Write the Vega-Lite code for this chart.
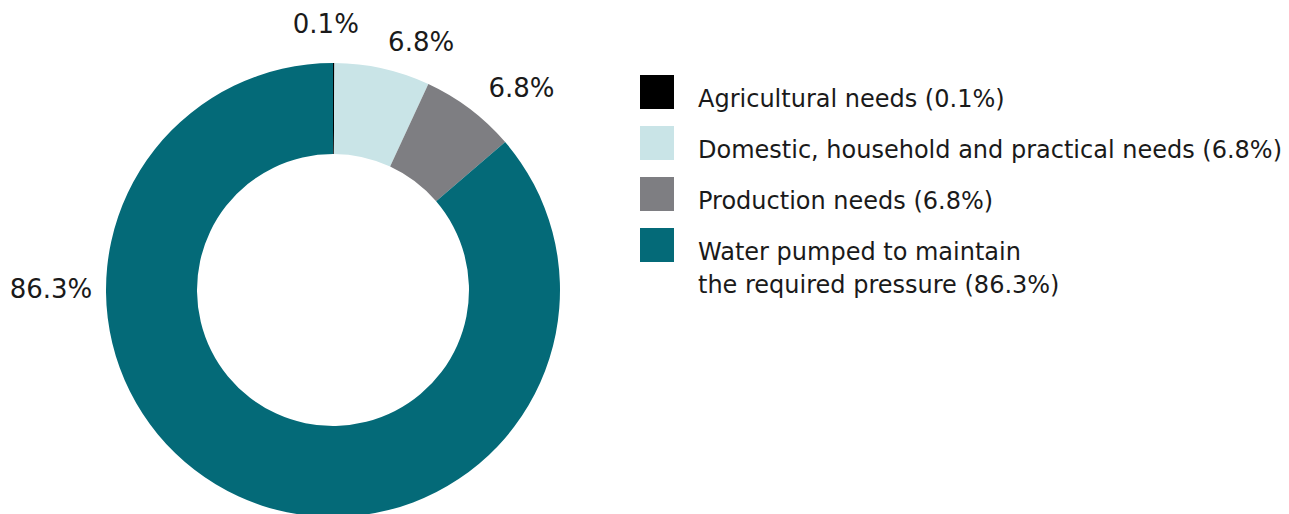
{
  "$schema": "https://vega.github.io/schema/vega-lite/v6.json",
  "width": 666,
  "height": 580,
  "padding": 0,
  "autosize": {"type": "pad"},
  "background": "white",
  "config": {"view": {"stroke": null}, "font": "DejaVu Sans"},
  "data": {
    "values": [
      {"category": "Agricultural needs (0.1%)", "share": 0.1, "label": "0.1%"},
      {"category": "Domestic, household and practical needs (6.8%)", "share": 6.8, "label": "6.8%"},
      {"category": "Production needs (6.8%)", "share": 6.8, "label": "6.8%"},
      {"category": "Water pumped to maintain|the required pressure (86.3%)", "share": 86.3, "label": "86.3%"}
    ]
  },
  "layer": [
    {
      "mark": {"type": "arc", "innerRadius": 136, "outerRadius": 227},
      "encoding": {
        "theta": {"field": "share", "type": "quantitative", "stack": true},
        "order": {"field": "category", "sort": "ascending"},
        "color": {
          "field": "category",
          "type": "nominal",
          "scale": {
            "domain": ["Agricultural needs (0.1%)", "Domestic, household and practical needs (6.8%)", "Production needs (6.8%)", "Water pumped to maintain|the required pressure (86.3%)"],
            "range": ["#000000", "#C9E4E7", "#7E7E82", "#046A78"]
          },
          "legend": {
            "title": null,
            "orient": "none",
            "legendX": 640,
            "legendY": 75,
            "symbolType": "square",
            "symbolSize": 1156,
            "symbolStrokeWidth": 0,
            "labelFontSize": 24,
            "labelFont": "DejaVu Sans",
            "labelColor": "#1a1a1a",
            "labelOffset": 24,
            "rowPadding": 14,
            "labelLimit": 800,
            "labelExpr": "split(datum.label, '|')",
            "encoding": {
              "labels": {"dy": {"value": 8}, "lineHeight": {"value": 33}}
            }
          }
        }
      }
    },
    {
      "transform": [{"filter": "datum.share < 1"}],
      "mark": {"type": "text", "radius": 265, "align": "center", "baseline": "middle", "fontSize": 26, "font": "DejaVu Sans", "color": "#1a1a1a", "dx": -8},
      "encoding": {
        "theta": {"field": "share", "type": "quantitative", "stack": true, "scale": {"domain": [0, 100]}},
        "text": {"field": "label"}
      }
    },
    {
      "transform": [{"filter": "datum.share > 1 && datum.share < 50"}],
      "mark": {"type": "text", "radius": 260, "align": "left", "baseline": "middle", "fontSize": 26, "font": "DejaVu Sans", "color": "#1a1a1a", "dy": 7},
      "encoding": {
        "theta": {"field": "share", "type": "quantitative", "stack": true, "scale": {"domain": [0, 100]}},
        "order": {"field": "category", "sort": "ascending"},
        "text": {"field": "label"}
      }
    },
    {
      "transform": [{"filter": "datum.share > 50"}],
      "mark": {"type": "text", "radius": 282, "align": "center", "baseline": "middle", "fontSize": 26, "font": "DejaVu Sans", "color": "#1a1a1a"},
      "encoding": {
        "theta": {"field": "share", "type": "quantitative", "stack": true, "scale": {"range": [3.14159, 6.28318]}},
        "text": {"field": "label"}
      }
    }
  ],
  "resolve": {"scale": {"theta": "independent"}}
}
